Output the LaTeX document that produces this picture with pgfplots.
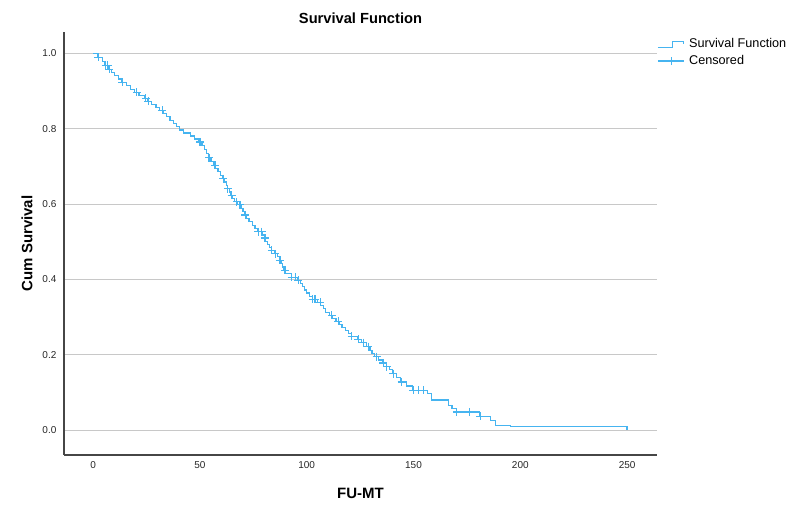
\documentclass[border=0pt]{standalone}
\usepackage{fontspec}
\setmainfont{Liberation Sans}
\usepackage{pgfplots}
\pgfplotsset{compat=1.18}
\definecolor{kmblue}{RGB}{70,180,240}
\definecolor{gridgray}{RGB}{200,200,200}
\definecolor{spine}{RGB}{70,70,70}
\begin{document}
\begin{tikzpicture}
\useasboundingbox (-48pt,-37.5pt) rectangle (544.5pt,341.25pt);
\begin{axis}[
  scale only axis, width=444.75pt, height=317.25pt,
  xmin=-13.6, xmax=264, ymin=-0.066, ymax=1.057,
  axis x line*=bottom, axis y line*=left,
  axis line style={-, draw=spine, line width=0.9pt},
  xtick={0,50,100,150,200,250},
  ytick={0,0.2,0.4,0.6,0.8,1.0},
  major tick length=0pt,
  ymajorgrids, grid style={gridgray, line width=0.8pt},
  /pgf/number format/assume math mode=true,
  yticklabel style={/pgf/number format/fixed, /pgf/number format/fixed zerofill,
    /pgf/number format/precision=1, anchor=east, inner sep=0pt, xshift=-5.5pt},
  xticklabel style={anchor=north, inner sep=0pt, yshift=-4.5pt},
  tick label style={font=\fontsize{7.5}{9}\selectfont, color=black!85},
  title={Survival Function},
  title style={at={(axis description cs:0.5,1)}, anchor=base,
    font=\bfseries\fontsize{11}{13}\selectfont},
  xlabel={FU-MT}, ylabel={Cum Survival},
  xlabel style={at={(axis description cs:0.5,0)}, anchor=center, yshift=-28.5pt,
    font=\bfseries\fontsize{11.25}{13}\selectfont},
  ylabel style={at={(axis description cs:-0.0624,0.5)}, anchor=center,
    font=\bfseries\fontsize{11.25}{13}\selectfont},
  legend cell align=left,
  legend style={at={(1,1)}, anchor=north west, draw=none, fill=none,
    inner xsep=0pt, inner ysep=1pt, row sep=0.5pt, yshift=-1.5pt,
    font=\fontsize{9.5}{11}\selectfont,
    nodes={inner xsep=3.5pt}},
  clip=false,
]
\addplot[const plot, color=kmblue, line width=0.9pt,
  legend image code/.code={\draw[kmblue, line width=0.9pt] (0pt,-2.5pt) -- (11pt,-2.5pt) -- (11pt,2pt) -- (19.5pt,2pt) -- (19.5pt,0pt);}]
coordinates {
(0,1.000) (2.0,0.990) (4.5,0.978) (5.5,0.969) (7.2,0.958) (8.5,0.950)
(10.0,0.941) (12.0,0.932) (13.5,0.923) (15.5,0.914) (17.5,0.905) (19.5,0.897)
(21.5,0.889) (24.2,0.881) (25.5,0.873) (27.5,0.865) (29.5,0.857) (31.0,0.849)
(33.0,0.841) (34.5,0.832) (36.0,0.823) (37.5,0.815) (39.0,0.806) (40.5,0.797)
(42.5,0.789) (45.5,0.781) (47.5,0.773) (49.5,0.765) (51.0,0.755) (52.0,0.745)
(53.0,0.734) (54.2,0.723) (55.2,0.713) (56.5,0.703) (57.5,0.694) (58.5,0.686)
(59.5,0.677) (60.7,0.668) (61.5,0.659) (62.3,0.650) (63.0,0.641) (63.8,0.632)
(64.6,0.623) (65.3,0.614) (66.3,0.606) (67.5,0.598) (69.5,0.589) (70.2,0.580)
(70.8,0.571) (71.8,0.562) (73.0,0.553) (74.5,0.544) (75.8,0.535) (77.0,0.527)
(79.5,0.518) (80.1,0.510) (80.7,0.501) (81.7,0.493) (82.6,0.485) (83.6,0.477)
(85.2,0.468) (86.2,0.460) (87.2,0.451) (88.0,0.442) (88.7,0.433) (89.4,0.424)
(90.2,0.415) (92.8,0.406) (95.8,0.398) (97.0,0.389) (98.0,0.381) (99.0,0.372)
(100.0,0.364) (101.2,0.355) (102.6,0.347) (105.0,0.339) (106.5,0.330) (107.8,0.322)
(109.0,0.313) (110.6,0.305) (112.2,0.297) (113.7,0.289) (115.1,0.281) (116.5,0.273)
(118.0,0.265) (119.4,0.257) (120.9,0.249) (124.0,0.241) (125.6,0.232) (128.0,0.222)
(129.6,0.212) (130.6,0.203) (131.6,0.195) (133.6,0.186) (135.6,0.178) (137.2,0.168)
(138.6,0.160) (140.3,0.150) (141.9,0.140) (143.9,0.128) (146.8,0.117) (149.4,0.106)
(156.4,0.097) (158.6,0.080) (166.3,0.066) (168.0,0.057) (170.0,0.048) (181.0,0.037)
(186.0,0.026) (188.3,0.013) (195.3,0.009) (250.0,0.000)
};
\addlegendentry{Survival Function}
\addplot[only marks, mark=+, mark size=3pt, color=kmblue, mark options={line width=0.9pt},
  legend image code/.code={\draw[kmblue, line width=0.9pt] (0pt,0pt) -- (19.5pt,0pt); \draw[kmblue, line width=0.9pt] (10.5pt,-3pt) -- (10.5pt,3pt);}]
coordinates {
(2.5,0.990) (5.9,0.969) (6.9,0.969) (7.6,0.958) (13.7,0.923) (20.5,0.897)
(24.7,0.881) (25.9,0.873) (32.4,0.849) (50.1,0.765) (54.3,0.723) (57.1,0.703)
(61.0,0.668) (63.1,0.641) (64.9,0.623) (67.3,0.606) (68.8,0.598) (71.2,0.571)
(77.4,0.527) (79.0,0.527) (80.5,0.510) (83.7,0.477) (85.3,0.468) (87.5,0.451)
(89.9,0.424) (93.0,0.406) (94.6,0.406) (96.1,0.398) (102.8,0.347) (103.9,0.347)
(106.3,0.339) (111.8,0.305) (114.8,0.289) (121.1,0.249) (124.2,0.241) (126.5,0.232)
(128.9,0.222) (132.8,0.195) (135.9,0.178) (137.5,0.168) (140.6,0.150) (144.5,0.128)
(150.0,0.106) (152.3,0.106) (154.6,0.106) (170.3,0.048) (176.2,0.048) (181.2,0.037)
};
\addlegendentry{Censored}
\end{axis}
\end{tikzpicture}
\end{document}
